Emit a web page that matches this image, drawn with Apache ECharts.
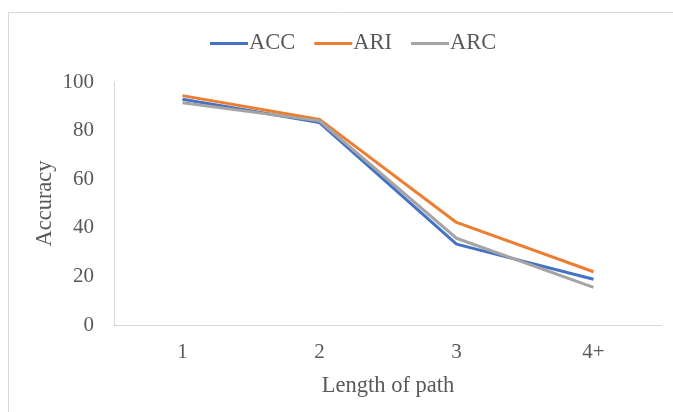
<!DOCTYPE html>
<html><head><meta charset="utf-8">
<script src="https://cdn.jsdelivr.net/npm/echarts@6/dist/echarts.min.js"></script>
<style>html,body{margin:0;padding:0;background:#fff}#c{width:673px;height:412px}</style>
</head><body><div id="c"></div>
<script>
const categories = ['1', '2', '3', '4+'];
const accValues = [92.9, 83.3, 33.3, 18.8];
const ariValues = [94.4, 84.6, 42.2, 21.9];
const arcValues = [91.5, 84.0, 35.7, 15.5];
const seriesNames = ['ACC', 'ARI', 'ARC'];
const colors = ['#4472C4', '#ED7D31', '#A5A5A5'];

const font = 'Liberation Serif, Times New Roman, serif';
const chart = echarts.init(document.getElementById('c'), null, {renderer: 'canvas'});
const data = [accValues, ariValues, arcValues];
chart.setOption({
  animation: false,
  backgroundColor: '#fff',
  color: colors,
  graphic: [{
    type: 'rect', shape: {x: 8.5, y: 12.5, width: 700, height: 450},
    style: {fill: 'none', stroke: '#d9d9d9', lineWidth: 1}, silent: true
  }],
  legend: {
    top: 27, left: 205,
    icon: 'rect', itemWidth: 38, itemHeight: 3, itemGap: 19,
    textStyle: {fontFamily: font, fontSize: 22.5, color: '#595959', padding: [0, 0, 0, -4]},
    data: seriesNames
  },
  grid: {left: 114, right: 11, top: 82, bottom: 87, containLabel: false},
  xAxis: {
    type: 'category', data: categories, boundaryGap: true,
    name: 'Length of path', nameLocation: 'middle', nameGap: 50,
    nameMoveOverlap: false,
    nameTextStyle: {fontFamily: font, fontSize: 22.5, color: '#595959'},
    axisLine: {lineStyle: {color: '#d9d9d9', width: 1}},
    axisTick: {show: false},
    axisLabel: {fontFamily: font, fontSize: 21, color: '#595959', margin: 17}
  },
  yAxis: {
    type: 'value', min: 0, max: 100, interval: 20,
    name: 'Accuracy', nameLocation: 'middle', nameGap: 57, nameRotate: 90,
    nameMoveOverlap: false,
    nameTextStyle: {fontFamily: font, fontSize: 22.5, color: '#595959'},
    axisLine: {show: true, lineStyle: {color: '#d9d9d9', width: 1}},
    axisTick: {show: false},
    splitLine: {show: false},
    axisLabel: {fontFamily: font, fontSize: 21, color: '#595959', margin: 20}
  },
  series: seriesNames.map((n, i) => ({
    name: n, type: 'line', data: data[i],
    symbol: 'none', lineStyle: {width: 3, color: colors[i]},
    itemStyle: {color: colors[i]}
  }))
});
</script></body></html>
